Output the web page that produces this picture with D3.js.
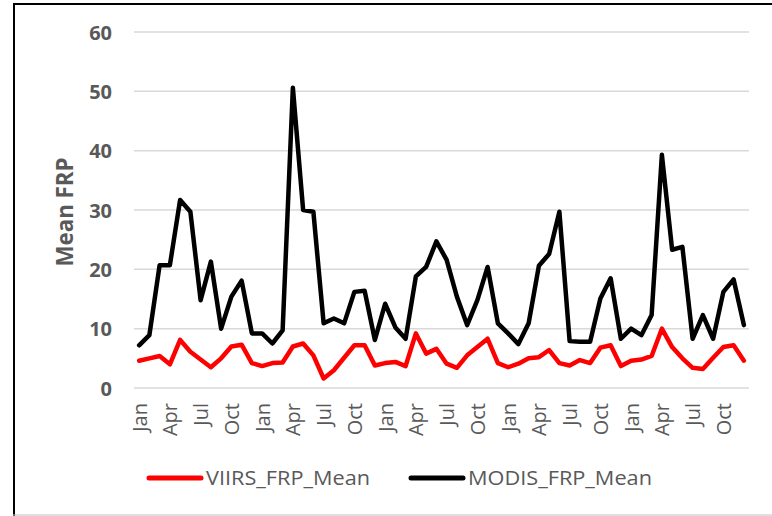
<!DOCTYPE html>
<html>
<head>
<meta charset="utf-8">
<script src="https://cdn.jsdelivr.net/npm/d3@7"></script>
<style>
  body { margin: 0; background: #fff; }
  svg { display: block; }
</style>
</head>
<body>
<div id="chart"></div>
<script>
// month names, 5 years of monthly data
const monthNames = ['Jan','Feb','Mar','Apr','May','Jun','Jul','Aug','Sep','Oct','Nov','Dec'];
const years = 5;
const yTicks = [0, 10, 20, 30, 40, 50, 60];
const seriesNames = ['VIIRS_FRP_Mean', 'MODIS_FRP_Mean'];
const seriesColors = ['#ff0000', '#000000'];

const viirs = [
  4.6, 5.0, 5.4, 4.0, 8.1, 6.1, 4.8, 3.5, 5.0, 7.0, 7.3, 4.2,
  3.7, 4.2, 4.3, 7.0, 7.5, 5.5, 1.6, 3.0, 5.1, 7.2, 7.2, 3.8,
  4.2, 4.4, 3.7, 9.2, 5.8, 6.6, 4.1, 3.4, 5.5, 6.9, 8.3, 4.2,
  3.5, 4.1, 5.0, 5.2, 6.4, 4.2, 3.8, 4.7, 4.2, 6.8, 7.2, 3.7,
  4.6, 4.8, 5.4, 10.0, 6.9, 5.0, 3.4, 3.2, 5.1, 6.9, 7.2, 4.6
];
const modis = [
  7.2, 8.9, 20.7, 20.7, 31.7, 29.7, 14.8, 21.3, 10.0, 15.4, 18.1, 9.2,
  9.2, 7.5, 9.7, 50.6, 30.0, 29.7, 10.9, 11.7, 10.9, 16.2, 16.4, 8.1,
  14.2, 10.2, 8.3, 18.8, 20.4, 24.7, 21.6, 15.4, 10.6, 14.8, 20.4, 10.9,
  9.2, 7.4, 10.9, 20.6, 22.6, 29.7, 7.9, 7.8, 7.8, 15.1, 18.5, 8.3,
  10.0, 8.9, 12.3, 39.3, 23.3, 23.8, 8.3, 12.3, 8.3, 16.2, 18.3, 10.6
];

const width = 772, height = 516;
const textColor = '#595959';
const font = '"Open Sans", sans-serif';

const svg = d3.select('#chart').append('svg')
  .attr('width', width)
  .attr('height', height);

// outer frame (right edge is cut off in the original)
svg.append('line').attr('x1', 13).attr('x2', 772).attr('y1', 4).attr('y2', 4)
  .attr('stroke', '#000').attr('stroke-width', 2);
svg.append('line').attr('x1', 14).attr('x2', 14).attr('y1', 3).attr('y2', 516)
  .attr('stroke', '#000').attr('stroke-width', 2);
svg.append('line').attr('x1', 13).attr('x2', 772).attr('y1', 515).attr('y2', 515)
  .attr('stroke', '#bfbfbf').attr('stroke-width', 1);

const idx = d3.range(monthNames.length * years);

const x = d3.scalePoint()
  .domain(idx)
  .range([134, 749])
  .padding(0.5);

const y = d3.scaleLinear()
  .domain([0, 60])
  .range([388, 32]);

// gridlines
svg.append('g')
  .selectAll('line')
  .data(yTicks)
  .join('line')
    .attr('x1', 134)
    .attr('x2', 749)
    .attr('y1', d => y(d))
    .attr('y2', d => y(d))
    .attr('stroke', '#d9d9d9')
    .attr('stroke-width', 1.5);

// y axis labels
const yAxis = svg.append('g')
  .attr('transform', 'translate(112,0)')
  .call(d3.axisLeft(y).tickValues(yTicks).tickSize(0).tickPadding(0));
yAxis.select('.domain').remove();
yAxis.selectAll('text')
  .attr('fill', textColor)
  .attr('font-family', font)
  .attr('font-weight', 'bold')
  .attr('font-size', 20)
  .attr('dy', '0.35em');

// y axis title
svg.append('text')
  .attr('transform', 'translate(73,212) rotate(-90)')
  .attr('text-anchor', 'middle')
  .attr('fill', textColor)
  .attr('font-family', font)
  .attr('font-weight', 'bold')
  .attr('font-size', 24)
  .attr('textLength', 109)
  .attr('lengthAdjust', 'spacingAndGlyphs')
  .text('Mean FRP');

// x axis labels (every third month)
const xAxis = svg.append('g')
  .attr('transform', 'translate(0,396)')
  .call(d3.axisBottom(x)
    .tickValues(idx.filter(i => i % 3 === 0))
    .tickFormat(i => monthNames[i % 12])
    .tickSize(0)
    .tickPadding(0));
xAxis.select('.domain').remove();
xAxis.selectAll('text')
  .attr('fill', textColor)
  .attr('font-family', font)
  .attr('font-size', 20)
  .attr('text-anchor', 'end')
  .attr('transform', 'rotate(-90)')
  .attr('x', -7)
  .attr('y', 0)
  .attr('dy', '0.35em');

// lines
const line = d3.line()
  .x((d, i) => x(i))
  .y(d => y(d));

[viirs, modis].forEach((vals, k) => {
  svg.append('path')
    .datum(vals)
    .attr('fill', 'none')
    .attr('stroke', seriesColors[k])
    .attr('stroke-width', 4.5)
    .attr('stroke-linejoin', 'round')
    .attr('stroke-linecap', 'round')
    .attr('d', line);
});

// legend
const legendX = [149, 411];
const legendLen = [164, 184];
const legend = svg.append('g');
seriesNames.forEach((name, k) => {
  legend.append('line')
    .attr('x1', legendX[k])
    .attr('x2', legendX[k] + 52)
    .attr('y1', 478)
    .attr('y2', 478)
    .attr('stroke', seriesColors[k])
    .attr('stroke-width', 5)
    .attr('stroke-linecap', 'round');
  legend.append('text')
    .attr('x', legendX[k] + 57)
    .attr('y', 478)
    .attr('dy', '0.35em')
    .attr('fill', textColor)
    .attr('font-family', font)
    .attr('font-size', 20)
    .attr('textLength', legendLen[k])
    .attr('lengthAdjust', 'spacingAndGlyphs')
    .text(name);
});
</script>
</body>
</html>
